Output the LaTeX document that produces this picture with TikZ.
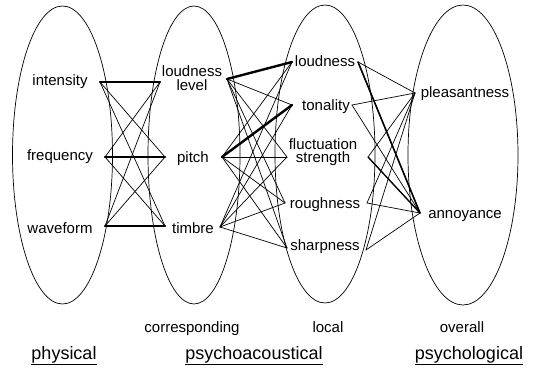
\documentclass[tikz,border=0pt]{standalone}
\usepackage{fontspec}
\setmainfont{Liberation Sans}
\begin{document}
\begin{tikzpicture}[x=1pt,y=-1pt,
  ell/.style={line width=0.7pt},
  conn/.style={line width=0.7pt, line cap=round},
  strong/.style={line width=2.4pt, line cap=round},
  lab/.style={inner sep=0pt, font=\fontsize{15}{13.5}\selectfont},
  lab2/.style={inner sep=0pt, align=center, font=\fontsize{15}{13.5}\selectfont},
  sub/.style={inner sep=0pt, font=\fontsize{15}{15}\selectfont},
  head/.style={inner sep=0pt, font=\fontsize{18}{18}\selectfont}]
\useasboundingbox (0,0) rectangle (539,370);
\fill[white] (0,0) rectangle (539,370);

% ellipses
\draw[ell] (62.5,155) ellipse [x radius=50pt, y radius=149pt];
\draw[ell] (194,155) ellipse [x radius=46pt, y radius=149pt];
\draw[ell] (325,154) ellipse [x radius=50pt, y radius=149pt];
\draw[ell] (463,155) ellipse [x radius=55pt, y radius=150pt];

% labels
\node[lab, anchor=base] (int) at (60,85.5) {intensity};
\node[lab, anchor=base] (freq) at (60,160.5) {frequency};
\node[lab, anchor=base] (wave) at (60,233.5) {waveform};

\node[lab2] (ll) at (192,78) {loudness\\level};
\node[lab, anchor=base] (pitch) at (193,162.5) {pitch};
\node[lab, anchor=base] (timbre) at (193,233.5) {timbre};

\node[lab, anchor=base] (loud) at (325,66.5) {loudness};
\node[lab, anchor=base] (ton) at (326,110.5) {tonality};
\node[lab2] (fluct) at (323,152) {fluctuation\\strength};
\node[lab, anchor=base] (rough) at (325,208.5) {roughness};
\node[lab, anchor=base] (sharp) at (325,250.5) {sharpness};

\node[lab, anchor=base] (pleas) at (465,97.5) {pleasantness};
\node[lab, anchor=base] (ann) at (465,218.5) {annoyance};

\node[sub, anchor=base] (corr) at (192,332) {corresponding};
\node[sub, anchor=base] (local) at (328,332) {local};
\node[sub, anchor=base] (over) at (462,332) {overall};

\node[head, anchor=base] (phys) at (64,359) {\underline{physical}};
\node[head, anchor=base] (psa) at (254,359) {\underline{psychoacoustical}};
\node[head, anchor=base] (psl) at (469,359) {\underline{psychological}};

% anchor points
\coordinate (intR) at (100,82);
\coordinate (freqR) at (105,157);
\coordinate (waveR) at (105,226);
\coordinate (llL) at (160,82);
\coordinate (pitchL) at (165,157);
\coordinate (timbreL) at (165,226);
\coordinate (llR) at (227,79);
\coordinate (pitchR) at (222,157);
\coordinate (timbreR) at (220,227);
\coordinate (loudL) at (292,62);
\coordinate (tonL) at (292,105);
\coordinate (fluctL) at (287,157);
\coordinate (roughL) at (285,203);
\coordinate (sharpL) at (287,248);
\coordinate (loudR) at (358,62);
\coordinate (tonR) at (352,105);
\coordinate (fluctR) at (368,157);
\coordinate (roughR) at (367,203);
\coordinate (sharpR) at (366,250);
\coordinate (pleasL) at (415,93);
\coordinate (annL) at (420,213);

% connections
\foreach \a in {intR,freqR,waveR}
  \foreach \b in {llL,pitchL,timbreL}
    \draw[conn] (\a) -- (\b);
\foreach \a in {llR,pitchR,timbreR}
  \foreach \b in {loudL,tonL,fluctL,roughL,sharpL}
    \draw[conn] (\a) -- (\b);
\foreach \a in {loudR,tonR,fluctR,roughR,sharpR}
  \foreach \b in {pleasL,annL}
    \draw[conn] (\a) -- (\b);

\draw[strong] (intR) -- (llL);
\draw[strong] (freqR) -- (pitchL);
\draw[strong] (waveR) -- (timbreL);
\draw[strong] (llR) -- (loudL);
\draw[strong] (pitchR) -- (tonL);
\draw[strong, line width=1.6pt] (loudR) -- (annL);
\draw[strong, line width=1.3pt] (fluctR) -- (annL);
\end{tikzpicture}
\end{document}
